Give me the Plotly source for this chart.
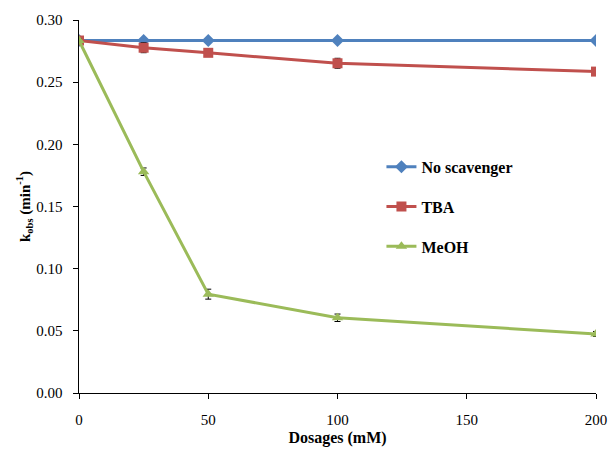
import plotly.graph_objects as go

# Scavenger dosages (mM) and observed rate constants
dosages = [0, 25, 50, 100, 200]
no_scavenger = [0.2835, 0.2835, 0.2835, 0.2835, 0.2835]
tba = [0.2835, 0.2777, 0.2736, 0.2652, 0.2585]
tba_err = [0.001, 0.004, 0.002, 0.004, 0.002]
meoh = [0.2835, 0.1780, 0.0795, 0.0605, 0.0475]
meoh_err = [0.001, 0.003, 0.004, 0.003, 0.002]

x_ticks = [0, 50, 100, 150, 200]
y_ticks = [0.00, 0.05, 0.10, 0.15, 0.20, 0.25, 0.30]

serif = "Liberation Serif"

fig = go.Figure()

fig.add_trace(go.Scatter(
    x=dosages, y=no_scavenger, name="No scavenger", mode="lines+markers",
    line=dict(color="#4F81BD", width=3),
    marker=dict(symbol="diamond", size=10, color="#4F81BD"),
    legendgroup="a",
))
fig.add_trace(go.Scatter(
    x=dosages, y=tba, name="TBA", mode="lines+markers",
    line=dict(color="#C0504D", width=3),
    marker=dict(symbol="square", size=10, color="#C0504D"),
    error_y=dict(type="data", array=tba_err, color="black", thickness=1, width=3),
    legendgroup="b",
))
fig.add_trace(go.Scatter(
    x=dosages, y=meoh, name="MeOH", mode="lines+markers",
    line=dict(color="#9BBB59", width=3),
    marker=dict(symbol="triangle-up", size=10, color="#9BBB59"),
    error_y=dict(type="data", array=meoh_err, color="black", thickness=1, width=3),
    legendgroup="c",
))

fig.update_layout(
    width=611, height=449,
    margin=dict(l=79, r=15, t=20, b=56, autoexpand=False),
    paper_bgcolor="white", plot_bgcolor="white",
    font=dict(family=serif, size=15, color="black"),
    showlegend=True,
    legend=dict(
        x=0.585, y=0.652, xanchor="left", yanchor="top",
        font=dict(family=serif, size=16, color="black", weight="bold"),
        bgcolor="rgba(0,0,0,0)", tracegroupgap=16,
        itemwidth=30,
    ),
    xaxis=dict(
        range=[0, 200], tickvals=x_ticks, ticktext=[str(v) for v in x_ticks],
        showline=True, linecolor="black", linewidth=1,
        ticks="outside", ticklen=5, tickcolor="black",
        showgrid=False, zeroline=False, automargin=False,
        tickfont=dict(family=serif, size=15), ticklabelstandoff=8,
        title=dict(text="<b>Dosages (mM)</b>", font=dict(family=serif, size=16), standoff=4),
    ),
    yaxis=dict(
        range=[0, 0.30], tickvals=y_ticks,
        ticktext=[f"{v:.2f}\u00a0\u00a0" for v in y_ticks],
        showline=True, linecolor="black", linewidth=1,
        ticks="outside", ticklen=5, tickcolor="black",
        showgrid=False, zeroline=False, automargin=False,
        tickfont=dict(family=serif, size=15),
        title=dict(text="<b>k<sub>obs</sub> (min<sup>-1</sup>)</b>", font=dict(family=serif, size=15), standoff=2),
    ),
)

fig.write_html("out.html")
